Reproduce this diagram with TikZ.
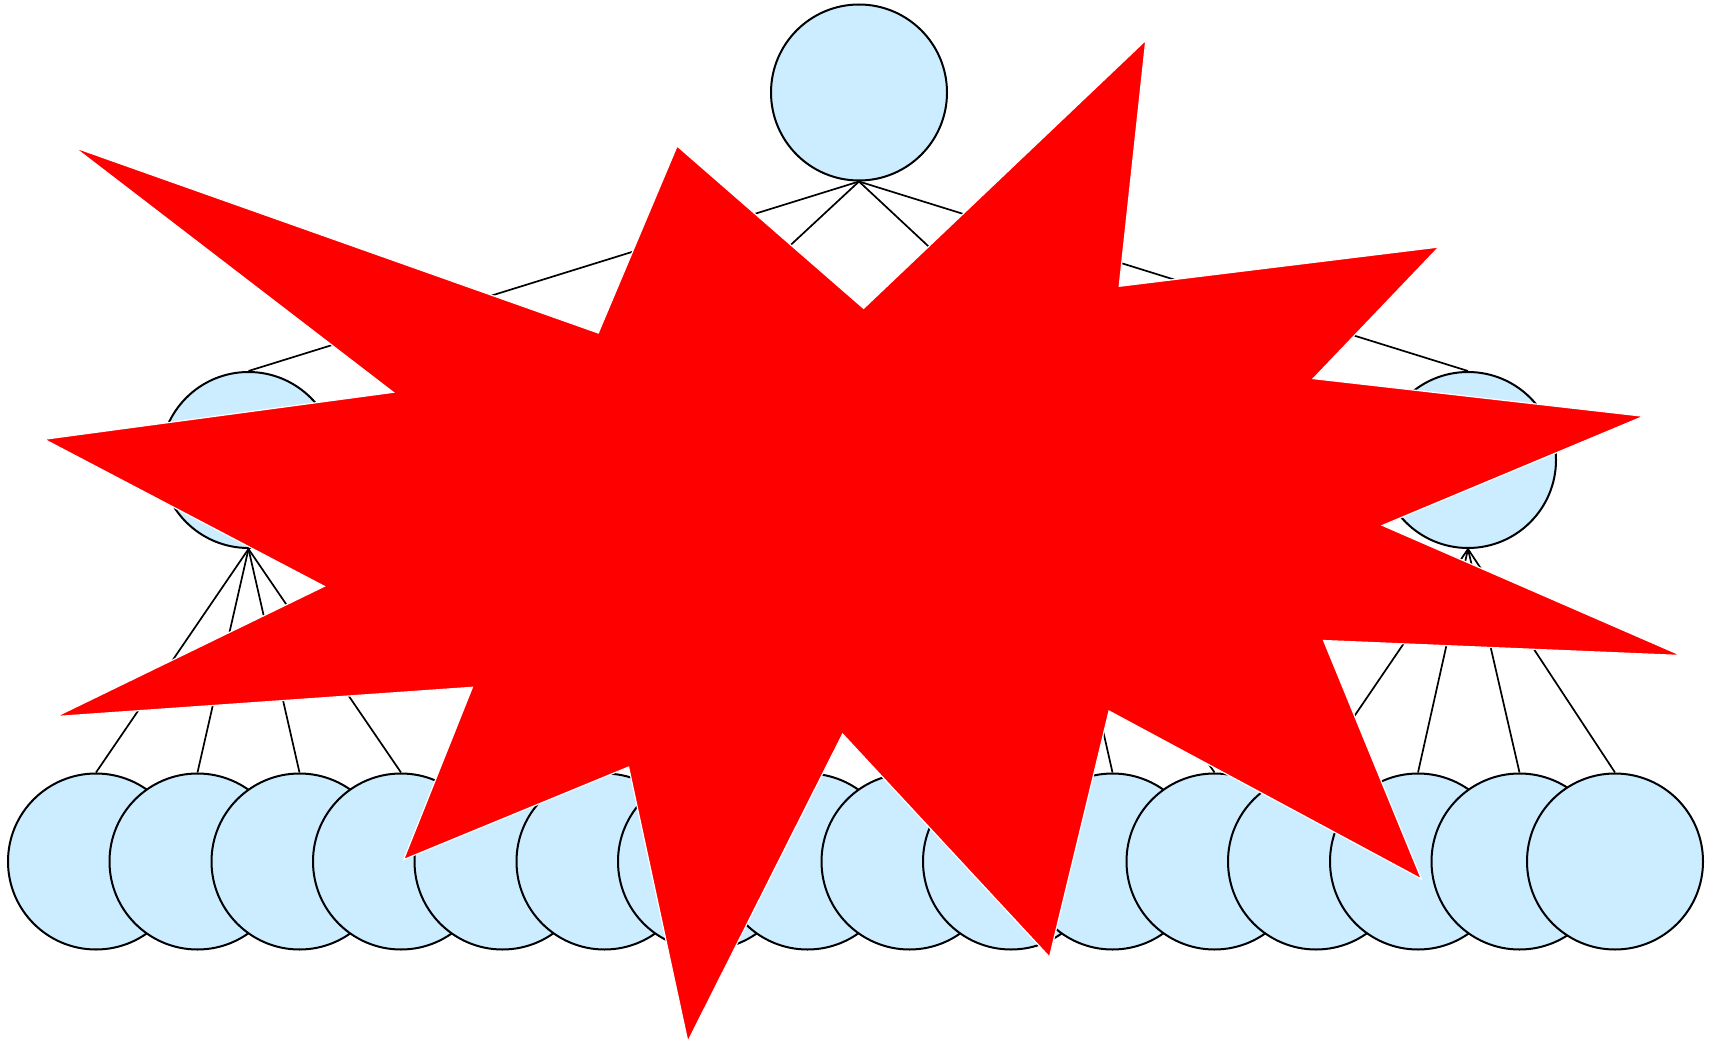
\documentclass[tikz,border=0pt]{standalone}
\begin{document}
\begin{tikzpicture}[x=1pt,y=-1pt,
  treenode/.style={circle, draw=black, line width=2pt, fill={rgb,255:red,204;green,236;blue,255}, minimum size=176pt, inner sep=0pt},
  edgeline/.style={draw=black, line width=1.7pt},
  burst/.style={fill={rgb,255:red,255;green,0;blue,0}, draw=white, line width=1.2pt, line join=miter}]
\useasboundingbox (0,0) rectangle (1709,1043);
% root and children
\node[treenode] (r) at (859,92.5) {};
\node[treenode] (c1) at (248.5,460) {};
\node[treenode] (c2) at (655,460) {};
\node[treenode] (c3) at (1062,460) {};
\node[treenode] (c4) at (1468,460) {};
% leaves
\foreach \i/\x in {1/96,2/197.5,3/299.5,4/401,5/502.5,6/604.5,7/706,8/807.5,9/909.5,10/1011,11/1112.5,12/1214.5,13/1316,14/1418,15/1519.5,16/1615}{
  \node[treenode] (l\i) at (\x,861.5) {};
}
% edges
\foreach \c in {1,2,3,4}{ \draw[edgeline] (r.south) -- (c\c.north); }
\foreach \i in {1,2,3,4}{ \draw[edgeline] (c1.south) -- (l\i.north); }
\foreach \i in {5,6,7,8}{ \draw[edgeline] (c2.south) -- (l\i.north); }
\foreach \i in {9,10,11,12}{ \draw[edgeline] (c3.south) -- (l\i.north); }
\foreach \i in {13,14,15,16}{ \draw[edgeline] (c4.south) -- (l\i.north); }
% explosion
\draw[burst] (74.5,147.5) -- (393.3,392.3) -- (44.2,439.3) -- (324.3,586.3) -- (56.3,716.5)
  -- (472.4,687.3) -- (403.6,859.6) -- (628.6,767) -- (687.8,1041.5) -- (842.6,734)
  -- (1049.5,957) -- (1109,711) -- (1421.4,879) -- (1323.6,640.5) -- (1681.3,655.5)
  -- (1382.4,525.4) -- (1643.6,416.3) -- (1313.2,378.6) -- (1438.9,247) -- (1119.2,286.3)
  -- (1145.8,40.2) -- (863.6,308.4) -- (677.1,146) -- (598.3,333) -- cycle;
\end{tikzpicture}
\end{document}
